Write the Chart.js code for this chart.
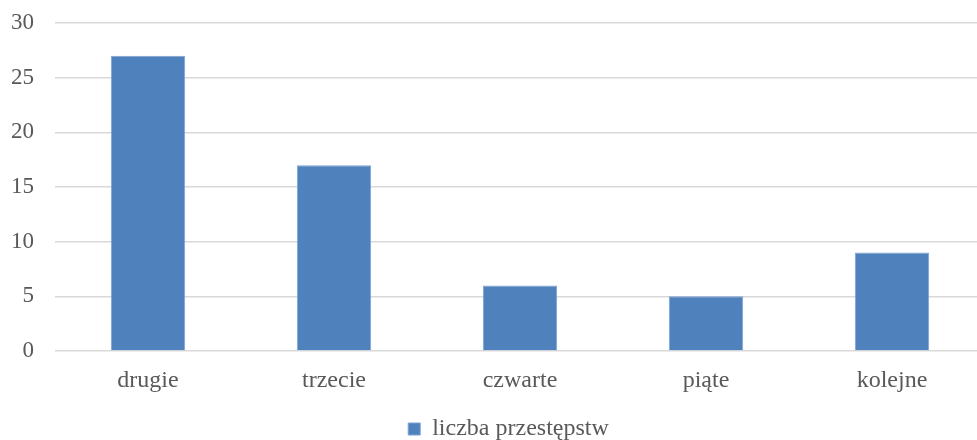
<!DOCTYPE html>
<html>
<head>
<meta charset="utf-8">
<script src="https://cdn.jsdelivr.net/npm/chart.js@4/dist/chart.umd.min.js"></script>
<style>
  html, body { margin: 0; padding: 0; background: #fff; overflow: hidden; }
  #wrap { width: 985px; height: 440px; position: relative; }
</style>
</head>
<body>
<div id="wrap"><canvas id="c" width="985" height="440"></canvas></div>
<script>
const categories = ['drugie', 'trzecie', 'czwarte', 'piąte', 'kolejne'];
const seriesName = 'liczba przestępstw';
const counts = [27, 17, 6, 5, 9];
const yTicks = [0, 5, 10, 15, 20, 25, 30];

const textColor = '#595959';
const fontFamily = '"Liberation Serif", "Times New Roman", serif';

// Nudge the legend block down and right, closer to the bottom edge.
const legendOffset = {
  id: 'legendOffset',
  afterLayout(chart) {
    const lg = chart.legend;
    if (!lg) return;
    lg.top += 11;
    lg.bottom += 11;
    lg.left += 32;
  }
};

new Chart(document.getElementById('c'), {
  type: 'bar',
  data: {
    labels: categories,
    datasets: [{
      label: seriesName,
      data: counts,
      backgroundColor: '#4F81BD',
      borderColor: '#7DA2D4',
      borderWidth: 1,
      categoryPercentage: 1,
      barPercentage: 0.4
    }]
  },
  options: {
    responsive: false,
    animation: false,
    layout: { padding: { top: 23, right: 0, left: 0, bottom: 0 } },
    scales: {
      x: {
        grid: { display: false, drawTicks: false },
        border: { display: false },
        ticks: { color: textColor, font: { family: fontFamily, size: 24 }, padding: 15 },
        afterFit: s => { s.height = 55; }
      },
      y: {
        min: 0,
        max: 30,
        afterBuildTicks: s => { s.ticks = yTicks.map(v => ({ value: v })); },
        grid: { color: '#D9D9D9', lineWidth: 1.5, drawTicks: false },
        border: { display: false },
        ticks: { color: textColor, font: { family: fontFamily, size: 23 }, padding: 21 },
        afterFit: s => { s.width = 55; s.paddingTop = 0; s.paddingBottom = 0; }
      }
    },
    plugins: {
      legend: {
        position: 'bottom',
        labels: {
          color: textColor,
          font: { family: fontFamily, size: 24, lineHeight: 1 },
          boxWidth: 12,
          boxHeight: 12,
          padding: 0,
          useBorderRadius: false
        }
      },
      tooltip: { enabled: false }
    }
  },
  plugins: [legendOffset]
});
</script>
</body>
</html>
